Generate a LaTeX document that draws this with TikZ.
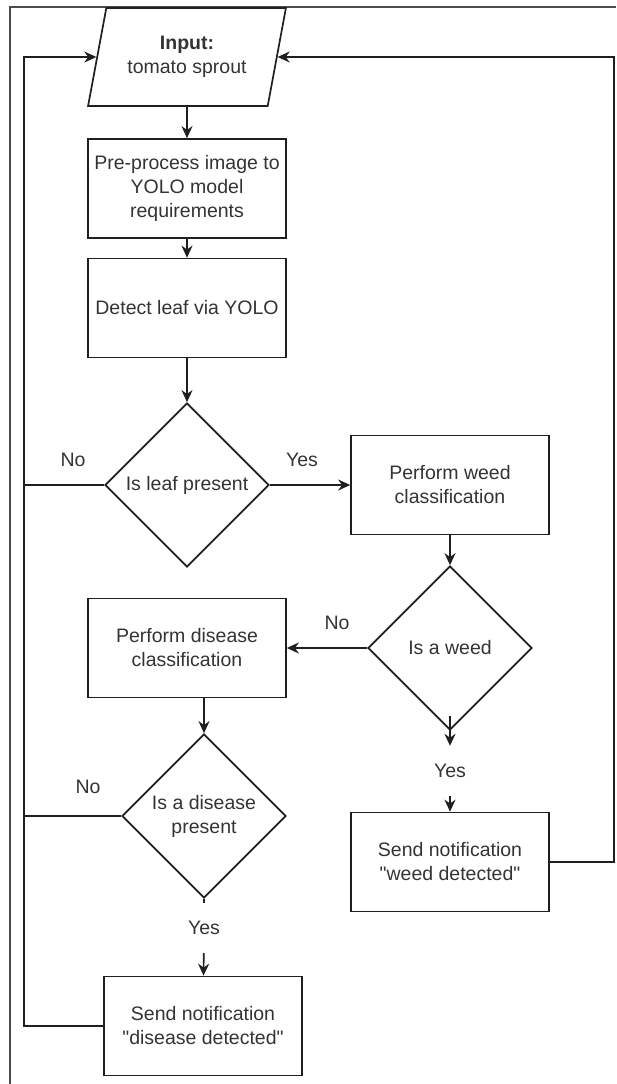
\documentclass[tikz,border=0pt]{standalone}
\usepackage{fontspec}
\setmainfont{Liberation Sans}[Ligatures=TeXOff]
\usepackage{xcolor}
\usepackage{tikz}
\usetikzlibrary{shapes.geometric,arrows.meta}

\begin{document}
\begin{tikzpicture}[x = 1pt,
                    y = -1pt,
                    font = \fontsize{19.5}{24}\selectfont]

  \useasboundingbox (0,0) rectangle (616,1084);

  % STYLES
  \definecolor{edgecolor_f}{rgb}{ 0.12,0.12,0.12 }
  \definecolor{textcolor_f}{rgb}{ 0.2,0.2,0.2 }
  \tikzstyle{linestyle_f} = [draw=edgecolor_f, line width=1.7pt, line join=miter]
  \tikzstyle{arrowstyle_f} = [linestyle_f, -{Stealth[length=12pt, width=11pt]}]
  \tikzstyle{boxstyle_f} = [linestyle_f, rectangle, text=textcolor_f, align=center, minimum width=198pt, minimum height=99pt, inner sep=2pt]
  \tikzstyle{decisionstyle_f} = [linestyle_f, diamond, aspect=1, text=textcolor_f, align=center, minimum width=164pt, minimum height=164pt, inner sep=0pt]
  \tikzstyle{inputstyle_f} = [linestyle_f, trapezium, trapezium left angle=72, trapezium right angle=108, trapezium stretches, text=textcolor_f, align=center, minimum width=198pt, minimum height=98pt, inner sep=0pt]
  \tikzstyle{labelstyle_f} = [text=textcolor_f, inner sep=0pt]
  \tikzstyle{yesstyle_f} = [text=textcolor_f, inner sep=0pt, minimum height=50pt]

  % FRAME
  \draw[draw=black!70, line width=1.3pt] (616,7) -- (10,7) -- (10,1084);

  % DEF POINTS
  \coordinate (loop_l) at (24,57);
  \coordinate (loop_r) at (614,57);

  % NODES
  \node[inputstyle_f] (input) at (187,57) {\textbf{Input:}\\tomato sprout};
  \node[boxstyle_f] (prep) at (187,188.5) {Pre-process image to\\YOLO model\\requirements};
  \node[boxstyle_f] (detect) at (187,308) {Detect leaf via YOLO};
  \node[decisionstyle_f] (is_leaf) at (187,485) {Is leaf present};
  \node[boxstyle_f] (weed_cls) at (450,485) {Perform weed\\classification};
  \node[decisionstyle_f] (is_weed) at (450,648) {Is a weed};
  \node[boxstyle_f] (dis_cls) at (187,648) {Perform disease\\classification};
  \node[decisionstyle_f] (is_dis) at (204,816) {Is a disease\\present};
  \node[yesstyle_f] (yes_weed) at (450,771) {Yes};
  \node[boxstyle_f] (weed_note) at (450,862) {Send notification\\"weed detected"};
  \node[yesstyle_f] (yes_dis) at (204,928) {Yes};
  \node[boxstyle_f] (dis_note) at (203,1026) {Send notification\\"disease detected"};

  % LABELS
  \node[labelstyle_f] (no_leaf) at (73,460) {No};
  \node[labelstyle_f] (yes_leaf) at (302,460) {Yes};
  \node[labelstyle_f] (no_weed) at (337,623) {No};
  \node[labelstyle_f] (no_dis) at (88,787) {No};

  % EDGES
  \draw[arrowstyle_f] (input) -- (prep);
  \draw[arrowstyle_f] (prep) -- (detect);
  \draw[arrowstyle_f] (detect) -- (is_leaf);
  \draw[arrowstyle_f] (is_leaf.east) -- (weed_cls.west);
  \draw[arrowstyle_f] (weed_cls) -- (is_weed);
  \draw[arrowstyle_f] (is_weed.west) -- (dis_cls.east);
  \draw[arrowstyle_f] (is_dis.north |- dis_cls.south) -- (is_dis.north);
  \draw[arrowstyle_f] ([yshift=15pt]is_weed.south) -- (yes_weed.north);
  \draw[arrowstyle_f] (yes_weed) -- (weed_note);
  \draw[linestyle_f] (is_dis.south) -- (yes_dis.north);
  \draw[arrowstyle_f] (yes_dis) -- (dis_note);

  % LOOPS
  \draw[linestyle_f] (is_leaf.west) -- (loop_l |- is_leaf.west);
  \draw[linestyle_f] (is_dis.west) -- (loop_l |- is_dis.west);
  \draw[arrowstyle_f] (dis_note.west) -| (loop_l) -- (input.west);
  \draw[arrowstyle_f] (weed_note.east) -| (loop_r) -- (input.east);

\end{tikzpicture}
\end{document}
